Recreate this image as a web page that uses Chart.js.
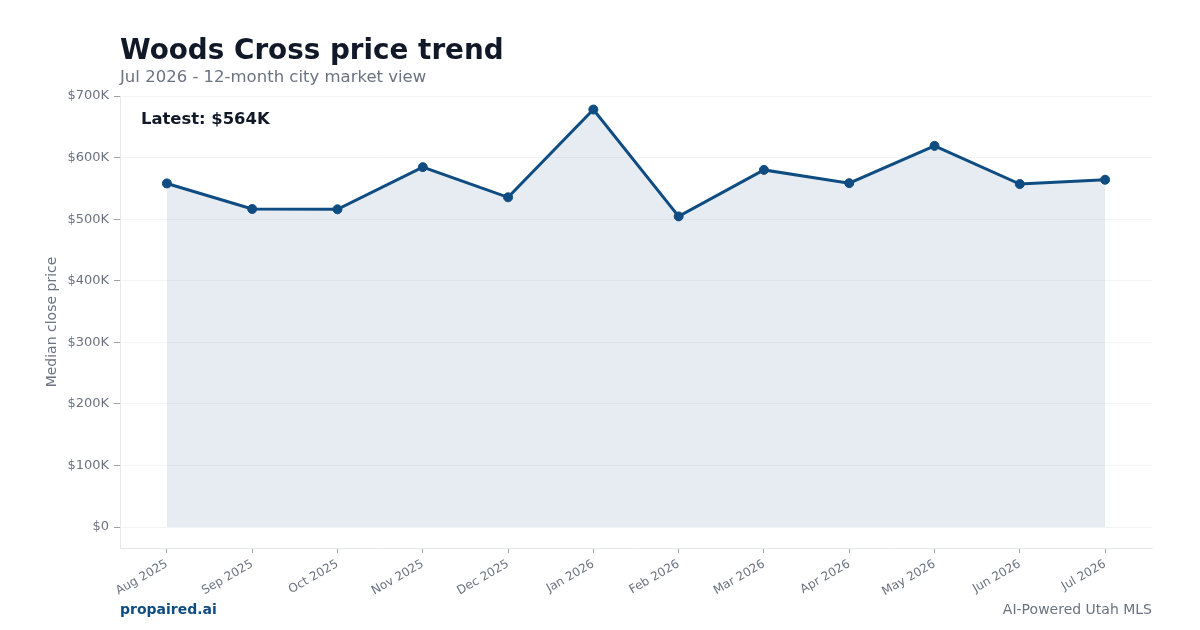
<!DOCTYPE html>
<html>
<head>
<meta charset="utf-8">
<script src="https://cdn.jsdelivr.net/npm/chart.js@4"></script>
<style>
  body { margin: 0; background: #fff; font-family: "DejaVu Sans", sans-serif; }
  #wrap { position: relative; width: 1200px; height: 630px; }
  #chart { position: absolute; left: 0; top: 0; }
  .txt { position: absolute; white-space: nowrap; }
  #title { left: 120px; top: 33px; font-size: 27.8px; font-weight: bold; color: #111827; }
  #subtitle { left: 120px; top: 67px; font-size: 16.5px; color: #6b7280; }
  #latest { left: 141px; top: 109px; font-size: 16.4px; font-weight: bold; color: #111827; }
  #brand { left: 120px; top: 601px; font-size: 14px; font-weight: bold; color: #0f4c81; }
  #tag { right: 48px; top: 601px; font-size: 14px; color: #6b7280; }
</style>
</head>
<body>
<div id="wrap">
  <canvas id="chart" width="1200" height="630"></canvas>
  <div class="txt" id="title">Woods Cross price trend</div>
  <div class="txt" id="subtitle">Jul 2026 - 12-month city market view</div>
  <div class="txt" id="latest">Latest: $564K</div>
  <div class="txt" id="brand">propaired.ai</div>
  <div class="txt" id="tag">AI-Powered Utah MLS</div>
</div>
<script>
var months = ['Aug 2025', 'Sep 2025', 'Oct 2025', 'Nov 2025', 'Dec 2025', 'Jan 2026',
              'Feb 2026', 'Mar 2026', 'Apr 2026', 'May 2026', 'Jun 2026', 'Jul 2026'];
var medianPrice = [558000, 516500, 516000, 584500, 535500, 678000,
                   504500, 580000, 558500, 619000, 557000, 564000];
var yTicks = [0, 100000, 200000, 300000, 400000, 500000, 600000, 700000];

var lineColor = '#0f4c81';

function money(v) {
  if (v == 0) return '$0';
  return '$' + Math.round(v / 1000) + 'K';
}

// months are placed by index on the x axis
var points = medianPrice.map(function(v, i) { return { x: i, y: v }; });

const ctx = document.getElementById('chart');

new Chart(ctx, {
  type: 'line',
  data: {
    datasets: [{
      label: 'Median close price',
      data: points,
      borderColor: lineColor,
      borderWidth: 3,
      backgroundColor: 'rgba(15, 76, 129, 0.105)',
      fill: 'origin',
      tension: 0,
      pointRadius: 4.5,
      pointBackgroundColor: lineColor,
      pointBorderColor: lineColor,
      pointBorderWidth: 1
    }]
  },
  options: {
    responsive: false,
    animation: false,
    layout: { padding: { top: 96, right: 48, left: 44, bottom: 0 } },
    plugins: {
      legend: { display: false },
      tooltip: { enabled: false }
    },
    scales: {
      x: {
        type: 'linear',
        min: -0.55,
        max: months.length - 1 + 0.55,
        border: { color: '#e5e7eb' },
        grid: { drawOnChartArea: false, tickLength: 5, tickColor: '#9ca3af' },
        ticks: {
          color: '#6b7280',
          font: { family: 'DejaVu Sans', size: 12 },
          minRotation: 30,
          maxRotation: 30,
          padding: 4,
          callback: function(v) { return months[v]; }
        },
        afterBuildTicks: function(s) {
          s.ticks = months.map(function(m, i) { return { value: i }; });
        },
        afterFit: function(s) { s.height = 82; }
      },
      y: {
        min: -34000,
        max: 700000,
        border: { color: '#e5e7eb' },
        grid: { color: '#f3f4f6', tickLength: 6, tickColor: '#9ca3af' },
        ticks: {
          color: '#6b7280',
          font: { family: 'DejaVu Sans', size: 13 },
          padding: 5,
          callback: function(v) { return money(v); }
        },
        afterBuildTicks: function(s) {
          s.ticks = yTicks.map(function(v) { return { value: v }; });
        },
        title: {
          display: true,
          text: 'Median close price',
          color: '#6b7280',
          font: { family: 'DejaVu Sans', size: 14 },
          padding: { top: 0, bottom: 4 }
        },
        afterFit: function(s) { s.width = 76; }
      }
    }
  }
});
</script>
</body>
</html>
